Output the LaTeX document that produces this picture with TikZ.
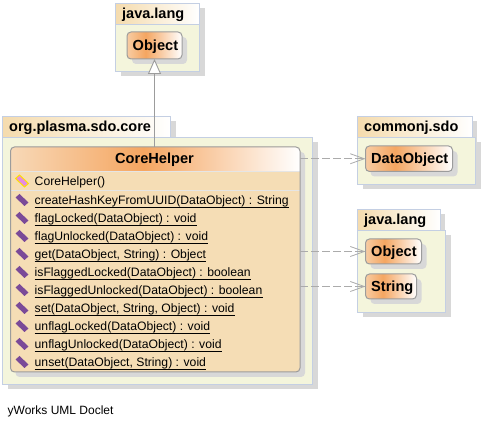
\documentclass[tikz,border=0pt]{standalone}
\usepackage{fontspec}
\setmainfont{Liberation Sans}
\usetikzlibrary{arrows.meta,calc}
\definecolor{tabedge}{HTML}{C4CFE3}
\definecolor{pkgfill}{HTML}{F4F5DC}
\definecolor{shadowc}{HTML}{D8D8D8}
\definecolor{cream}{HTML}{F5DDB5}
\definecolor{edgec}{HTML}{9C9C9C}
\definecolor{methodc}{HTML}{7A4A98}
\definecolor{ctorc}{HTML}{E58BE0}
\pgfdeclarehorizontalshading{umlnode}{100bp}{
  rgb(0bp)=(0.97,0.80,0.64);
  rgb(25bp)=(0.97,0.80,0.64);
  rgb(42bp)=(0.96,0.65,0.38);
  rgb(75bp)=(1,1,1);
  rgb(100bp)=(1,1,1)}
\pgfdeclarehorizontalshading{umlhead}{100bp}{
  rgb(0bp)=(0.97,0.85,0.72);
  rgb(25bp)=(0.97,0.85,0.72);
  rgb(48bp)=(0.96,0.65,0.38);
  rgb(75bp)=(1,1,1);
  rgb(100bp)=(1,1,1)}
\pgfdeclarehorizontalshading{umltab}{100bp}{
  rgb(0bp)=(0.96,0.86,0.68);
  rgb(25bp)=(0.96,0.86,0.68);
  rgb(75bp)=(1,1,1);
  rgb(100bp)=(1,1,1)}
\tikzset{
  x=1pt,y=-1pt,
  pkgbody/.style={fill=pkgfill,draw=tabedge,line width=1pt},
  pkgtab/.style={shading=umltab,draw=tabedge,line width=1pt},
  pkglabel/.style={font=\fontsize{14.5}{16}\selectfont\bfseries,anchor=base west,inner sep=0pt,text=black},
  classbox/.style={shading=umlnode,draw=edgec,line width=1pt,rounded corners=4pt},
  classlabel/.style={font=\fontsize{14.6}{16}\selectfont\bfseries,inner sep=0pt,text=black},
  member/.style={font=\fontsize{12.2}{13}\selectfont,anchor=base west,inner sep=0pt,text=black},
  depline/.style={draw=edgec!85!white,dash pattern=on 8pt off 3pt,line width=1pt,-{Straight Barb[length=14pt,width=10pt,line width=.8pt]}},
  inherit/.style={draw=edgec,line width=1pt,-{Triangle[open,fill=white,length=15pt,width=13pt,line width=.9pt]}}
}
\newcommand{\iconpath}[2]{(#1-6.5,#2-2.5) -- (#1-2.5,#2-6) -- (#1+6.5,#2+2.5) -- (#1+2.5,#2+6) -- cycle}
\newcommand{\pkgbox}[7]{% x0 x1 tabx y0 ytab y1 label
  \fill[shadowc] (#1+5,#4+5) rectangle (#3+5,#5+5);
  \fill[shadowc] (#1+5,#5+5) rectangle (#2+5,#6+5);
  \draw[pkgbody] (#1,#5) rectangle (#2,#6);
  \draw[pkgtab] (#1,#4) rectangle (#3,#5);
  \node[pkglabel] at (#1+6.5,#5-6) {#7};}
\newcommand{\classnode}[6]{% name x0 x1 y0 y1 label
  \fill[shadowc,rounded corners=4pt] (#2+5,#4+5) rectangle (#3+5,#5+5);
  \draw[classbox] (#2,#4) rectangle (#3,#5);
  \coordinate (#1w) at (#2,{(#4+#5)/2});
  \coordinate (#1s) at ({(#2+#3)/2},#5);
  \node[classlabel,anchor=base west] at (#2+5.5,{(#4+#5)/2+5}) {#6};}
\begin{document}
\begin{tikzpicture}
\useasboundingbox (0,0) rectangle (483,427);
\fill[white] (0,0) rectangle (483,427);
% packages
\pkgbox{115.5}{199.5}{199.5}{3.5}{24.5}{71.5}{java.lang}
\classnode{objA}{127}{182}{32}{59}{Object}
\pkgbox{2.5}{312.5}{170.5}{116.5}{137.5}{384.5}{org.plasma.sdo.core}
\pkgbox{357.5}{475.5}{472}{116.5}{137.5}{184.5}{commonj.sdo}
\classnode{dobj}{365.5}{452.5}{146}{171.5}{DataObject}
\pkgbox{357.5}{445.5}{440}{209.5}{230.5}{312.5}{java.lang}
\classnode{objB}{365.5}{421.5}{239}{264}{Object}
\classnode{strB}{365.5}{416.5}{274}{299}{String}
% class
\fill[shadowc,rounded corners=4pt] (15.5,152) rectangle (305,377);
\fill[cream,rounded corners=4pt] (10.5,147) rectangle (300,372);
\shade[shading=umlhead] (10.5,171) [rounded corners=4pt] -- (10.5,147) -- (300,147) [sharp corners] -- (300,171) -- cycle;
\draw[white!90!black,line width=1pt] (11,171.5) -- (299.5,171.5);
\draw[white!90!black,line width=1pt] (11,190.5) -- (299.5,190.5);
\draw[draw=edgec,line width=1pt,rounded corners=4pt] (10.5,147) rectangle (300,372);
\coordinate (core) at (154.5,147);
\coordinate (coreDO) at (300,158.75);
\coordinate (coreO) at (300,251.5);
\coordinate (coreS) at (300,286.5);
\node[classlabel,anchor=base] (title) at (154.5,164) {CoreHelper};
% constructor
\fill[ctorc,draw=yellow!85!orange,line width=1pt] \iconpath{22}{181};
\node[member] (ctor) at (34.5,186) {CoreHelper()};
% methods
\foreach \yy/\nm/\txt in {
 205/m0/{createHashKeyFromUUID(DataObject) : String},
 223/m1/{flagLocked(DataObject) : void},
 241/m2/{flagUnlocked(DataObject) : void},
 259/m3/{get(DataObject, String) : Object},
 277/m4/{isFlaggedLocked(DataObject) : boolean},
 295/m5/{isFlaggedUnlocked(DataObject) : boolean},
 313/m6/{set(DataObject, String, Object) : void},
 331/m7/{unflagLocked(DataObject) : void},
 349/m8/{unflagUnlocked(DataObject) : void},
 367/m9/{unset(DataObject, String) : void}}{
  \fill[methodc] \iconpath{22}{\yy-5};
  \node[member] (\nm) at (34.5,\yy) {\txt};
  \draw[black,line width=.9pt] ($(\nm.base west)+(0,2)$) -- ($(\nm.base east)+(0,2)$);
}
% connectors
\draw[inherit] (core) -- (objAs);
\draw[depline] (coreDO) -- (dobjw);
\draw[depline] (coreO) -- (objBw);
\draw[depline] (coreS) -- (strBw);
\node[anchor=base west,inner sep=0pt,font=\fontsize{12}{13}\selectfont] (credit) at (7.5,415) {yWorks UML Doclet};
\end{tikzpicture}
\end{document}
